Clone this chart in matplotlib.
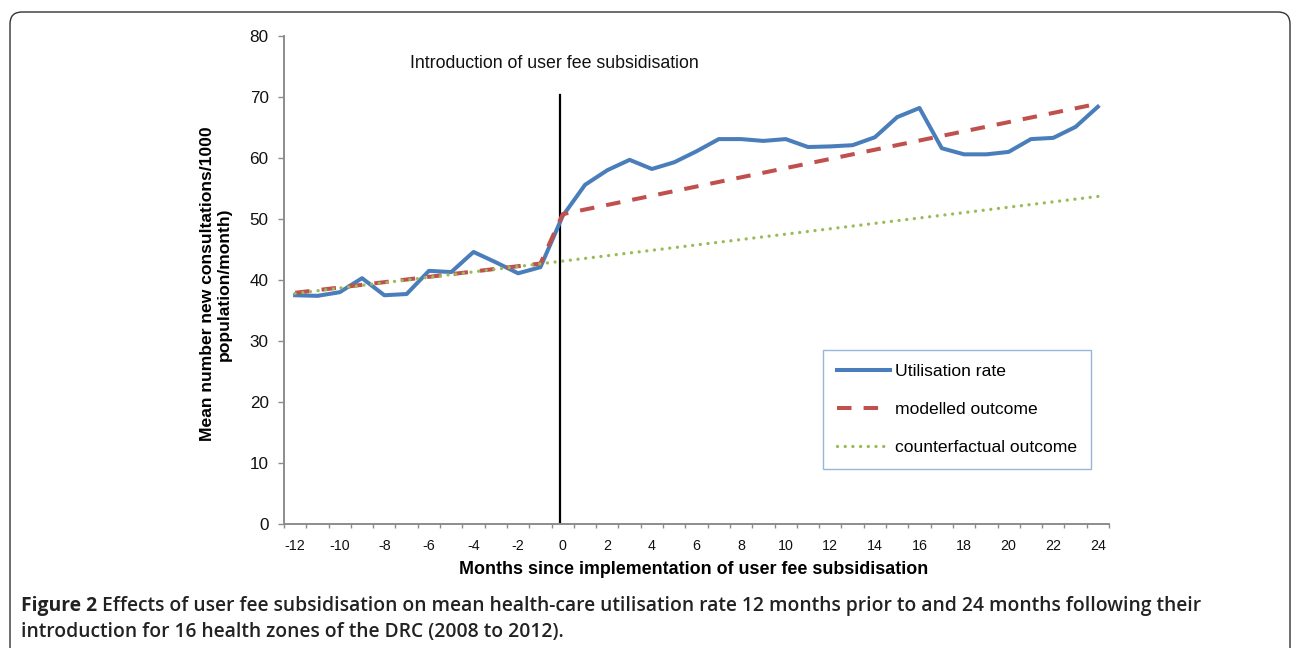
import matplotlib
matplotlib.use('Agg')
import matplotlib.pyplot as plt
from matplotlib.patches import FancyBboxPatch
from matplotlib.transforms import IdentityTransform
from matplotlib.ticker import MultipleLocator, FixedLocator

plt.rcParams['font.family'] = ['Liberation Sans', 'DejaVu Sans']

# data
months = list(range(-12, 25))
utilisation = [37.5, 37.4, 38.0, 40.3, 37.5, 37.7, 41.5, 41.3, 44.6, 42.9, 41.1, 42.1,
               50.5, 55.6, 58.0, 59.7, 58.2, 59.3, 61.1, 63.1, 63.1, 62.8, 63.1, 61.8,
               61.9, 62.1, 63.4, 66.7, 68.2, 61.6, 60.6, 60.6, 61.0, 63.1, 63.3, 65.1, 68.4]
modelled_months = [-12, -1, 0, 24]
modelled = [37.9, 42.7, 50.8, 68.9]
counter_months = [-12, 24]
counterfactual = [37.8, 53.7]
xtick_labels = list(range(-12, 25, 2))

blue = '#4A7EBB'
red = '#C0504D'
green = '#9BBB59'

fig = plt.figure(figsize=(12.92, 6.48), dpi=100)
W, H = 1292, 648
ax = fig.add_axes([284 / W, 1 - 524 / H, (1109 - 284) / W, (524 - 36) / H])

ax.plot(months, utilisation, color=blue, lw=2.9, solid_joinstyle='round',
        label='Utilisation rate', zorder=3)
ax.plot(modelled_months, modelled, color=red, lw=2.9, dashes=(3.6, 3.0),
        dash_capstyle='butt', label='modelled outcome', zorder=4)
ax.plot(counter_months, counterfactual, color=green, lw=2.4, dashes=(0.01, 2.3),
        dash_capstyle='round', label='counterfactual outcome', zorder=5)
ax.plot([-0.1, -0.1], [0, 70.3], color='black', lw=1.6, zorder=2)

ax.text(-6.85, 75.5, 'Introduction of user fee subsidisation', fontsize=12.8,
        ha='left', va='center', color='#111111')

ax.set_xlim(-12.5, 24.5)
ax.set_ylim(0, 80)
ax.yaxis.set_major_locator(MultipleLocator(10))
ax.set_xticks(xtick_labels)
ax.set_xticklabels([str(v) for v in xtick_labels])
ax.xaxis.set_minor_locator(FixedLocator([m - 0.5 for m in range(-12, 26)]))

for s in ['top', 'right']:
    ax.spines[s].set_visible(False)
for s in ['left', 'bottom']:
    ax.spines[s].set_color('#8C8C8C')
    ax.spines[s].set_linewidth(1.4)

ax.tick_params(axis='y', which='major', length=4, width=1.0, color='#8C8C8C',
               labelsize=12.3, pad=7, labelcolor='#111111')
ax.tick_params(axis='x', which='major', length=0, labelsize=10.3, pad=11,
               labelcolor='#111111')
ax.tick_params(axis='x', which='minor', length=3, width=1.0, color='#8C8C8C')

fig.text(216 / W, 1 - 284 / H, 'Mean number new consultations/1000\npopulation/month)',
         rotation=90, ha='center', va='center', fontsize=12.6, fontweight='bold',
         multialignment='center', linespacing=1.2)
fig.text(694 / W, 1 - 570 / H, 'Months since implementation of user fee subsidisation',
         ha='center', va='center', fontsize=12.9, fontweight='bold')

leg = ax.legend(loc='upper left', bbox_to_anchor=((823 - 284) / 825, (524 - 350) / 488),
                frameon=True, fancybox=False, fontsize=12.6, handlelength=3.0,
                labelspacing=1.3, borderpad=0.8, handletextpad=0.3,
                borderaxespad=0)
leg.get_frame().set_edgecolor('#7FA3CF')
leg.get_frame().set_linewidth(1.0)

# rounded outer frame of the figure panel
frame = FancyBboxPatch((10, -30), 1280, 636 + 30, boxstyle='round,pad=0,rounding_size=12',
                       transform=IdentityTransform(), fill=False, edgecolor='#333333',
                       lw=1.0, figure=fig)
fig.patches.append(frame)

cap_font = ['Open Sans', 'DejaVu Sans']
cap_size = 13.9
t1 = fig.text(21 / W, 1 - 606 / H, 'Figure 2 ', fontsize=cap_size, fontweight='bold',
              family=cap_font, va='center', ha='left', color='#222222')
fig.canvas.draw()
bb = t1.get_window_extent()
fig.text(bb.x1 / W, 1 - 606 / H,
         'Effects of user fee subsidisation on mean health-care utilisation rate 12 months prior to and 24 months following their',
         fontsize=cap_size, fontweight='semibold', family=cap_font, va='center', ha='left',
         color='#222222')
fig.text(21 / W, 1 - 632 / H,
         'introduction for 16 health zones of the DRC (2008 to 2012).',
         fontsize=cap_size, fontweight='semibold', family=cap_font, va='center', ha='left',
         color='#222222')

fig.savefig('out.png', dpi=100)
